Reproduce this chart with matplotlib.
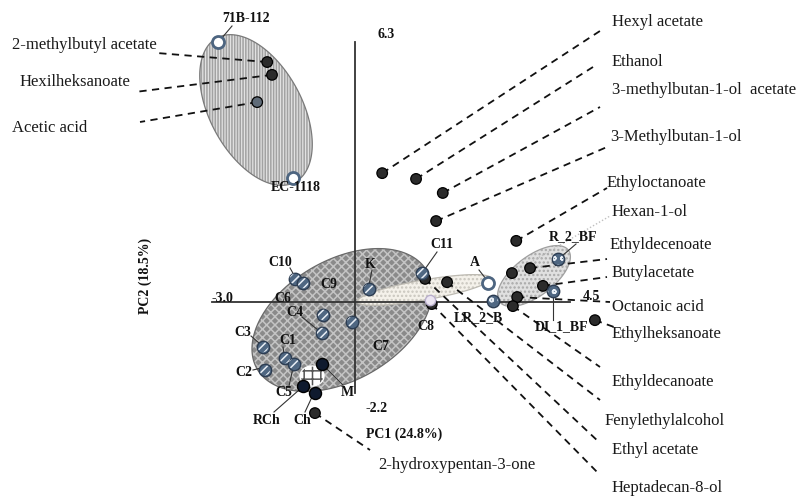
import numpy as np
import matplotlib
matplotlib.use('Agg')
import matplotlib.pyplot as plt
from matplotlib.patches import Polygon

plt.rcParams['hatch.linewidth'] = 1.1

# ---------------- data (PCA scores / loadings) ----------------
var_names = ['Hexyl acetate', 'Ethanol', '3-methylbutan-1-ol  acetate', '3-Methylbutan-1-ol',
             'Ethyloctanoate', 'Hexan-1-ol', 'Ethyldecenoate', 'Butylacetate', 'Octanoic acid',
             'Ethylheksanoate', 'Ethyldecanoate', 'Fenylethylalcohol', 'Ethyl acetate',
             'Heptadecan-8-ol', '2-hydroxypentan-3-one', '2-methylbutyl acetate',
             'Hexilheksanoate', 'Acetic acid']
var_pc1 = [0.57, 1.28, 1.84, 1.70, 3.38, 3.29, 3.67, 3.94, 3.40, 5.03, 3.31, 1.93, 1.47,
           1.61, -0.84, -1.84, -1.74, -2.05]
var_pc2 = [3.12, 2.98, 2.64, 1.96, 1.48, 0.70, 0.82, 0.39, 0.12, -0.44, -0.10, 0.48, 0.56,
           -0.05, -2.69, 5.81, 5.50, 4.84]

obs_names = ['71B-112', 'EC-1118', 'C10', 'C6', 'C9', 'C4', 'C7', 'K', 'C3', 'C1', 'C5', 'C2',
             'M', 'RCh', 'Ch', 'C8', 'C11', 'A', 'LR_2_B', 'R_2_BF', 'DI_1_BF']
obs_pc1 = [-2.87, -1.30, -1.26, -1.09, -0.67, -0.69, -0.06, 0.29, -1.93, -1.47, -1.28, -1.89,
           -0.69, -1.09, -0.84, 1.57, 1.40, 2.79, 2.89, 4.26, 4.15]
obs_pc2 = [6.30, 3.00, 0.56, 0.46, -0.31, -0.75, -0.48, 0.31, -1.09, -1.36, -1.50, -1.65,
           -1.50, -2.03, -2.20, 0.05, 0.70, 0.46, 0.02, 1.04, 0.27]
obs_group = ['white', 'white', 'striped', 'striped', 'striped', 'striped', 'striped', 'striped',
             'striped', 'striped', 'striped', 'striped', 'navy', 'navy', 'navy', 'pale',
             'striped', 'white', 'dotted', 'dotted', 'dotted']

axis_x_range = [-3.0, 4.5]
axis_y_range = [-2.2, 6.3]
pc1_label = 'PC1 (24.8%)'
pc2_label = 'PC2 (18.5%)'

# ---------------- layout ----------------
W, H = 798, 497
OX, OY, SX, SY = 355, 302, 47.7, 41.3   # pixel origin and pixels per unit


def P(px, py):
    return ((px - OX) / SX, (OY - py) / SY)


fig = plt.figure(figsize=(W / 100, H / 100), dpi=100)
ax = fig.add_axes([0, 0, 1, 1])
ax.set_xlim(-OX / SX, (W - OX) / SX)
ax.set_ylim((OY - H) / SY, OY / SY)
ax.axis('off')


def ellipse(cx, cy, a, b, ang, n=200):
    t = np.linspace(0, 2 * np.pi, n)
    th = np.deg2rad(ang)
    x = a * np.cos(t) * np.cos(th) - b * np.sin(t) * np.sin(th)
    y = a * np.cos(t) * np.sin(th) + b * np.sin(t) * np.cos(th)
    return np.column_stack([(cx + x - OX) / SX, (OY - cy + y) / SY])


def add_ell(cx, cy, a, b, ang, face, hatch, hcol, edge, z):
    v = ellipse(cx, cy, a, b, ang)
    ax.add_patch(Polygon(v, closed=True, facecolor=face, edgecolor='none', zorder=z))
    ax.add_patch(Polygon(v, closed=True, facecolor='none', edgecolor=hcol, hatch=hatch,
                         linewidth=0, zorder=z))
    ax.add_patch(Polygon(v, closed=True, facecolor='none', edgecolor=edge, linewidth=0.9,
                         zorder=z))


add_ell(256, 110, 82, 46, -61.5, '#e2e2e2', '||||||', '#a2a2a2', '#7a7a7a', 1)
add_ell(342, 320, 98, 60, 30, '#8a8a8a', 'xxxx', '#c4c4c4', '#6a6a6a', 1)
add_ell(424, 290, 68, 10, 10, '#f4f1ea', '....', '#c9c6be', '#bdbab2', 2)
add_ell(534, 276, 43, 20, 37, '#e0e0e0', '....', '#a8a8a8', '#a0a0a0', 2)
add_ell(312, 376, 12, 10, 0, '#ffffff', '++', '#555555', '#ffffff', 3)

# axes lines
ax.plot(axis_x_range, [0, 0], color='#333333', lw=1.3, zorder=3)
ax.plot([0, 0], axis_y_range, color='#333333', lw=1.3, zorder=3)

serif = 'Liberation Serif'
bold = dict(family=serif, fontsize=10, fontweight='bold', color='#111111')
ax.text(*P(222, 298), '%.1f' % axis_x_range[0], ha='center', va='center', **bold)
ax.text(*P(591, 297), '%.1f' % axis_x_range[1], ha='center', va='center', **bold)
ax.text(*P(386, 34), '%.1f' % axis_y_range[1], ha='center', va='center', **bold)
ax.text(*P(377, 408), '%.1f' % axis_y_range[0], ha='center', va='center', **bold)
ax.text(*P(404, 434), pc1_label, ha='center', va='center', **bold)
ax.text(*P(145, 276), pc2_label, ha='center', va='center', rotation=90, **bold)

# variable label anchors: text position (px), dashed-line end (px)
var_text = {
    'Hexyl acetate': (612, 22, 603, 29),
    'Ethanol': (612, 62, 593, 67),
    '3-methylbutan-1-ol  acetate': (612, 90, 600, 107),
    '3-Methylbutan-1-ol': (610, 137, 607, 147),
    'Ethyloctanoate': (607, 183, 607, 188),
    'Hexan-1-ol': (612, 212, 610, 216),
    'Ethyldecenoate': (610, 245, 607, 259),
    'Butylacetate': (612, 273, 607, 277),
    'Octanoic acid': (612, 307, 610, 302),
    'Ethylheksanoate': (612, 334, 614, 327),
    'Ethyldecanoate': (612, 382, 600, 367),
    'Fenylethylalcohol': (605, 421, 600, 400),
    'Ethyl acetate': (612, 450, 600, 443),
    'Heptadecan-8-ol': (612, 488, 600, 475),
    '2-hydroxypentan-3-one': (378, 465, 370, 450),
    '2-methylbutyl acetate': (12, 45, 157, 53),
    'Hexilheksanoate': (20, 82, 135, 92),
    'Acetic acid': (12, 128, 140, 122),
}
for name, x, y in zip(var_names, var_pc1, var_pc2):
    tx, ty, lx, ly = var_text[name]
    ex, ey = P(lx, ly)
    if name == 'Hexan-1-ol':
        ax.plot([x, ex], [y, ey], color='#c0c0c0', lw=1.0, ls=(0, (1, 1.5)), zorder=2)
    else:
        ax.plot([x, ex], [y, ey], color='#111111', lw=1.3, ls=(0, (4, 3)), zorder=4)
    ax.text(*P(tx, ty), name, ha='left', va='center', family=serif, fontsize=12,
            color='#1a1a1a', zorder=6)

var_face = ['#5f6b78' if n == 'Acetic acid' else '#2b2b2b' for n in var_names]
ax.scatter(var_pc1, var_pc2, s=58, c=var_face, edgecolors='#000000', linewidths=0.9, zorder=5)

# observation markers
styles = {
    'white': dict(face='#ffffff', edge='#4d6580', lw=2.0, s=75, hatch=None),
    'striped': dict(face='#4f6782', edge='#2d3d52', lw=1.0, s=80, hatch='////'),
    'navy': dict(face='#0f1a2e', edge='#000000', lw=1.0, s=75, hatch=None),
    'dotted': dict(face='#4f6782', edge='#2d3d52', lw=1.0, s=80, hatch='oo'),
    'pale': dict(face='#ece6f2', edge='#b8aecb', lw=1.0, s=55, hatch=None),
}
for g, st in styles.items():
    xs = [x for x, gg in zip(obs_pc1, obs_group) if gg == g]
    ys = [y for y, gg in zip(obs_pc2, obs_group) if gg == g]
    ax.scatter(xs, ys, s=st['s'], c=st['face'], edgecolors=st['edge'], linewidths=st['lw'],
               zorder=7)
    if st['hatch']:
        ax.scatter(xs, ys, s=st['s'] * 0.7, facecolors='none', edgecolors='#e8eef5',
                   linewidths=0, hatch=st['hatch'], zorder=8)

# observation labels: text center (px) and optional leader (px)
obs_text = {
    '71B-112': (246, 18, (232, 26, 221, 39)),
    'EC-1118': (296, 187, None),
    'C10': (280, 263, (290, 268, 294, 275)),
    'C6': (283, 299, None),
    'C9': (329, 285, None),
    'C4': (295, 312, (302, 317, 318, 330)),
    'C7': (381, 346, None),
    'K': (370, 264, (372, 270, 369, 285)),
    'C3': (243, 333, (251, 336, 259, 343)),
    'C1': (288, 340, (283, 347, 284, 354)),
    'C5': (284, 392, (289, 386, 293, 368)),
    'C2': (244, 373, (253, 370, 261, 368)),
    'M': (347, 392, (343, 385, 326, 368)),
    'RCh': (267, 421, (274, 412, 299, 390)),
    'Ch': (302, 421, (305, 412, 312, 397)),
    'C8': (426, 327, None),
    'C11': (442, 244, (437, 252, 425, 269)),
    'A': (475, 263, (479, 270, 486, 279)),
    'LR_2_B': (478, 318, None),
    'R_2_BF': (573, 237, (576, 244, 562, 256)),
    'DI_1_BF': (562, 327, (553, 295, 553, 320)),
}
for name in obs_names:
    tx, ty, ld = obs_text[name]
    ax.text(*P(tx, ty), name, ha='center', va='center', zorder=9, **bold)
    if ld:
        a = P(ld[0], ld[1]); b = P(ld[2], ld[3])
        ax.plot([a[0], b[0]], [a[1], b[1]], color='#333333', lw=0.8, zorder=6)

fig.savefig('out.png', dpi=100, facecolor='white')
